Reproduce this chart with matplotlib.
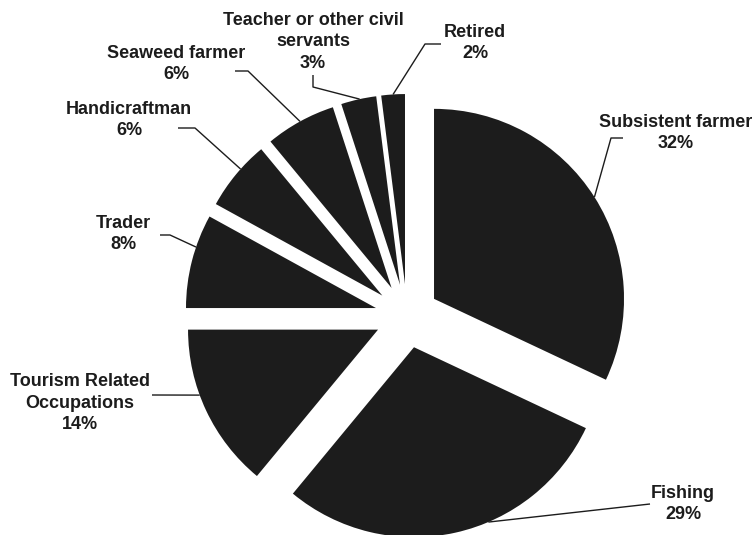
import math
import matplotlib.pyplot as plt

occupations = ["Subsistent farmer", "Fishing", "Tourism Related\nOccupations", "Trader",
               "Handicraftman", "Seaweed farmer", "Teacher or other civil\nservants", "Retired"]
shares = [32, 29, 14, 8, 6, 6, 3, 2]

# label placement, in pixels from the top-left corner of the figure
label_xy = [(676, 133), (683, 504), (80, 403), (123, 234),
            (129, 120), (176, 64), (313, 42), (475, 43)]
# extra points of each leader line after it leaves the slice
leader_paths = [[(611, 138), (623, 138)], [(650, 504)], [(152, 395)],
                [(170, 235), (160, 235)], [(195, 128), (178, 128)],
                [(248, 71), (235, 71)], [(313, 87), (313, 75)],
                [(425, 44), (441, 44)]]
# where along the slice's arc the leader line starts (0 = first edge, 1 = last)
anchor = [0.5, 0.40, 0.6, 0.65, 0.6, 0.5, 0.53, 0.5]

W, H, DPI = 754, 535, 100
CX, CY, R = 407, 316, 190   # pie centre and radius in pixels
GAP = 32                    # explode distance in pixels
INK = "#1c1c1c"


def to_data(px, py):
    return (px - CX) / R, (CY - py) / R


fig = plt.figure(figsize=(W / DPI, H / DPI), dpi=DPI)
ax = fig.add_axes([0, 0, 1, 1])
wedges, _ = ax.pie(shares, startangle=90, counterclock=False,
                   colors=[INK] * len(shares),
                   explode=[GAP / R] * len(shares),
                   wedgeprops=dict(linewidth=0))
ax.set_xlim((0 - CX) / R, (W - CX) / R)
ax.set_ylim((CY - H) / R, CY / R)
ax.set_aspect("auto")
ax.axis("off")

for w, name, pct, xy, path, f in zip(wedges, occupations, shares,
                                     label_xy, leader_paths, anchor):
    # clockwise slices: theta2 is the leading edge
    ang = math.radians(w.theta2 - f * (w.theta2 - w.theta1))
    x0 = w.center[0] + w.r * math.cos(ang)
    y0 = w.center[1] + w.r * math.sin(ang)
    pts = [(x0, y0)] + [to_data(*p) for p in path]
    ax.plot([p[0] for p in pts], [p[1] for p in pts], color=INK, lw=1.0,
            solid_capstyle="butt")
    tx, ty = to_data(*xy)
    ax.text(tx, ty, f"{name}\n{pct}%", ha="center", va="center",
            multialignment="center", linespacing=1.37, fontsize=13,
            fontweight="bold", family="Liberation Sans", color=INK)

fig.savefig("out.png", dpi=DPI)
